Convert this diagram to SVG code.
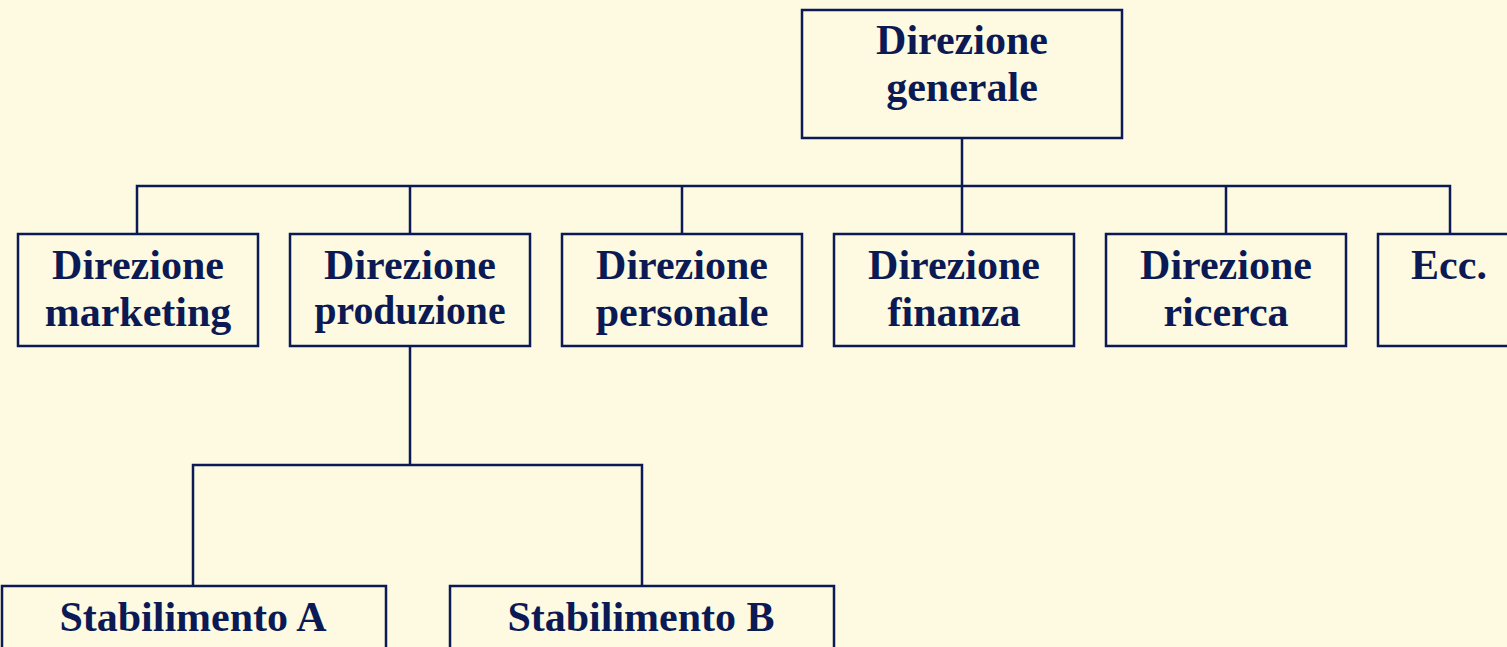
<svg xmlns="http://www.w3.org/2000/svg" width="1507" height="647" viewBox="0 0 1507 647">
<style>
.bg{fill:#fdfae1}
.box{fill:#fdfae1;stroke:#0b1a55;stroke-width:2.5}
.con{fill:none;stroke:#0b1a55;stroke-width:2.5}
.t{font-family:"Liberation Serif","Times New Roman",serif;font-weight:bold;font-size:42px;fill:#0b1a55;text-anchor:middle}
</style>
<rect class="bg" x="0" y="0" width="1507" height="647"/>
<g id="connectors">
<path class="con" d="M962 138V186M137 234V186H1450V234M410 186V234M682 186V234M962 186V234M1226 186V234"/>
<path class="con" d="M410 346V465M193 586V465H642V586"/>
</g>
<g id="n-generale"><rect class="box" x="802" y="10" width="320" height="128"/><text class="t" x="962" y="54">Direzione</text><text class="t" x="962" y="101">generale</text></g>
<g id="n-marketing"><rect class="box" x="18" y="234" width="240" height="112"/><text class="t" x="138" y="279">Direzione</text><text class="t" x="138" y="326">marketing</text></g>
<g id="n-produzione"><rect class="box" x="290" y="234" width="240" height="112"/><text class="t" x="410" y="279">Direzione</text><text class="t" x="410" y="324" textLength="191" lengthAdjust="spacingAndGlyphs">produzione</text></g>
<g id="n-personale"><rect class="box" x="562" y="234" width="240" height="112"/><text class="t" x="682" y="279">Direzione</text><text class="t" x="682" y="326">personale</text></g>
<g id="n-finanza"><rect class="box" x="834" y="234" width="240" height="112"/><text class="t" x="954" y="279">Direzione</text><text class="t" x="954" y="326">finanza</text></g>
<g id="n-ricerca"><rect class="box" x="1106" y="234" width="240" height="112"/><text class="t" x="1226" y="279">Direzione</text><text class="t" x="1226" y="326">ricerca</text></g>
<g id="n-ecc"><rect class="box" x="1378" y="234" width="240" height="112"/><text class="t" x="1449" y="279">Ecc.</text></g>
<g id="n-stabA"><rect class="box" x="2" y="586" width="384" height="80"/><text class="t" x="193" y="631">Stabilimento A</text></g>
<g id="n-stabB"><rect class="box" x="450" y="586" width="384" height="80"/><text class="t" x="641" y="631">Stabilimento B</text></g>
</svg>
